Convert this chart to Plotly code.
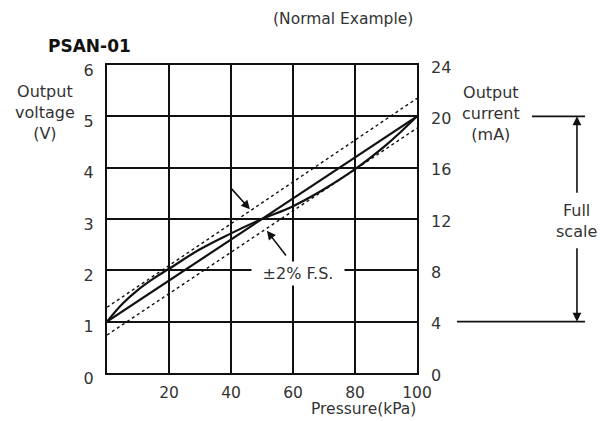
import plotly.graph_objects as go

# ---- data ----
pressure_ends = [0, 100]                 # kPa
ideal_voltage = [1.0, 5.0]              # V, ideal straight characteristic
upper_limit = [1.28, 5.35]              # +2% F.S. band (as drawn)
lower_limit = [0.74, 4.77]              # -2% F.S. band (as drawn)

hyst_pressure = [0, 5, 10, 15, 20, 30, 40, 50, 60, 70, 80, 90, 95, 100]
hyst_voltage = [1.0, 1.35, 1.62, 1.84, 2.03, 2.41, 2.72, 3.0, 3.25, 3.58, 3.97, 4.44, 4.71, 5.0]

x_ticks = [20, 40, 60, 80, 100]
v_ticks = [0, 1, 2, 3, 4, 5, 6]
ma_ticks = [0, 4, 8, 12, 16, 20, 24]
ideal_current = [4, 20]                 # mA

FONT = "DejaVu Sans"
TXT = "#333333"
LINE = "#111111"

fig = go.Figure()

fig.add_trace(go.Scatter(x=pressure_ends, y=upper_limit, mode="lines",
                         line=dict(color=LINE, width=1.4, dash="dot"), hoverinfo="skip"))
fig.add_trace(go.Scatter(x=pressure_ends, y=lower_limit, mode="lines",
                         line=dict(color=LINE, width=1.4, dash="dot"), hoverinfo="skip"))
fig.add_trace(go.Scatter(x=pressure_ends, y=ideal_voltage, mode="lines",
                         line=dict(color=LINE, width=2.2), hoverinfo="skip"))
fig.add_trace(go.Scatter(x=hyst_pressure, y=hyst_voltage, mode="lines",
                         line=dict(color=LINE, width=2.2, shape="spline", smoothing=1.2),
                         hoverinfo="skip"))
# current axis carrier (same line in mA, invisible)
fig.add_trace(go.Scatter(x=pressure_ends, y=ideal_current, mode="lines", yaxis="y2",
                         line=dict(color="rgba(0,0,0,0)", width=0), hoverinfo="skip"))

# page body has an 8px default margin, so the figure is 8px smaller and shifted
fig.update_layout(
    width=603, height=413,
    margin=dict(l=99, r=194, t=57, b=48),
    paper_bgcolor="white", plot_bgcolor="white",
    showlegend=False,
    font=dict(family=FONT, size=16, color=TXT),
    xaxis=dict(range=[0, 100], tickvals=x_ticks, showgrid=True, gridcolor=LINE, gridwidth=1.5,
               zeroline=False, showline=True, linecolor=LINE, linewidth=2, mirror=True,
               ticks="", ticklabelstandoff=4, tickfont=dict(size=15.5, color=TXT)),
    yaxis=dict(range=[0, 6], tickvals=v_ticks, showgrid=True, gridcolor=LINE, gridwidth=1.5,
               zeroline=False, showline=True, linecolor=LINE, linewidth=2, mirror=True,
               ticks="", ticklabelstandoff=8, ticklabelshift=5,
               tickfont=dict(size=16, color=TXT)),
    yaxis2=dict(range=[0, 24], tickvals=ma_ticks, overlaying="y", side="right",
                showgrid=False, zeroline=False, showline=False, ticks="",
                ticklabelstandoff=13, ticklabelshift=2, tickfont=dict(size=16, color=TXT)),
)

C = dict(xanchor="center", yanchor="middle")
ann = []
# titles / labels
ann.append(dict(text="<b>PSAN-01</b>", xref="paper", yref="paper", x=-0.055, y=1.062,
                showarrow=False, font=dict(size=17, color="#111111"), **C))
ann.append(dict(text="(Normal Example)", xref="paper", yref="paper", x=0.761, y=1.149,
                showarrow=False, font=dict(size=15.5, color=TXT), **C))
ann.append(dict(text="Output<br>voltage<br>(V)", xref="paper", yref="paper", x=-0.2, y=0.847,
                showarrow=False, font=dict(size=16, color=TXT), **C))
ann.append(dict(text="Output<br>current<br>(mA)", xref="paper", yref="paper", x=1.238, y=0.844,
                showarrow=False, font=dict(size=16, color=TXT), **C))
ann.append(dict(text="Pressure(kPa)", xref="paper", yref="paper", x=0.829, y=-0.118,
                showarrow=False, font=dict(size=15.5, color=TXT), **C))
# ±2% F.S. label with white box covering grid
ann.append(dict(text="±2% F.S.", xref="x", yref="y", x=61.6, y=1.93, showarrow=False,
                bgcolor="white", borderpad=2, width=88, font=dict(size=16, color=TXT), **C))
# pointing arrows to band lines
ann.append(dict(text="", xref="x", yref="y", x=46.1, y=3.19, axref="x", ayref="y",
                ax=39.4, ay=3.64, showarrow=True, arrowhead=2, arrowsize=1.1,
                arrowwidth=1.6, arrowcolor=LINE))
ann.append(dict(text="", xref="x", yref="y", x=51.6, y=2.77, axref="x", ayref="y",
                ax=58.1, ay=2.26, showarrow=True, arrowhead=2, arrowsize=1.1,
                arrowwidth=1.6, arrowcolor=LINE))
# full scale arrows
ann.append(dict(text="", xref="paper", yref="y", x=1.516, y=5, ax=0, ay=78,
                showarrow=True, arrowhead=2, arrowsize=1.1, arrowwidth=1.6, arrowcolor=LINE))
ann.append(dict(text="", xref="paper", yref="y", x=1.516, y=1, ax=0, ay=-75,
                showarrow=True, arrowhead=2, arrowsize=1.1, arrowwidth=1.6, arrowcolor=LINE))
ann.append(dict(text="Full<br>scale", xref="paper", yref="y", x=1.516, y=2.96,
                showarrow=False, font=dict(size=16, color=TXT), **C))
fig.update_layout(annotations=ann)

fig.add_shape(type="line", xref="paper", yref="y", x0=1.371, x1=1.542, y0=5, y1=5,
              line=dict(color=LINE, width=1.6))
fig.add_shape(type="line", xref="paper", yref="y", x0=1.129, x1=1.542, y0=1, y1=1,
              line=dict(color=LINE, width=1.6))

fig.write_html("out.html")
